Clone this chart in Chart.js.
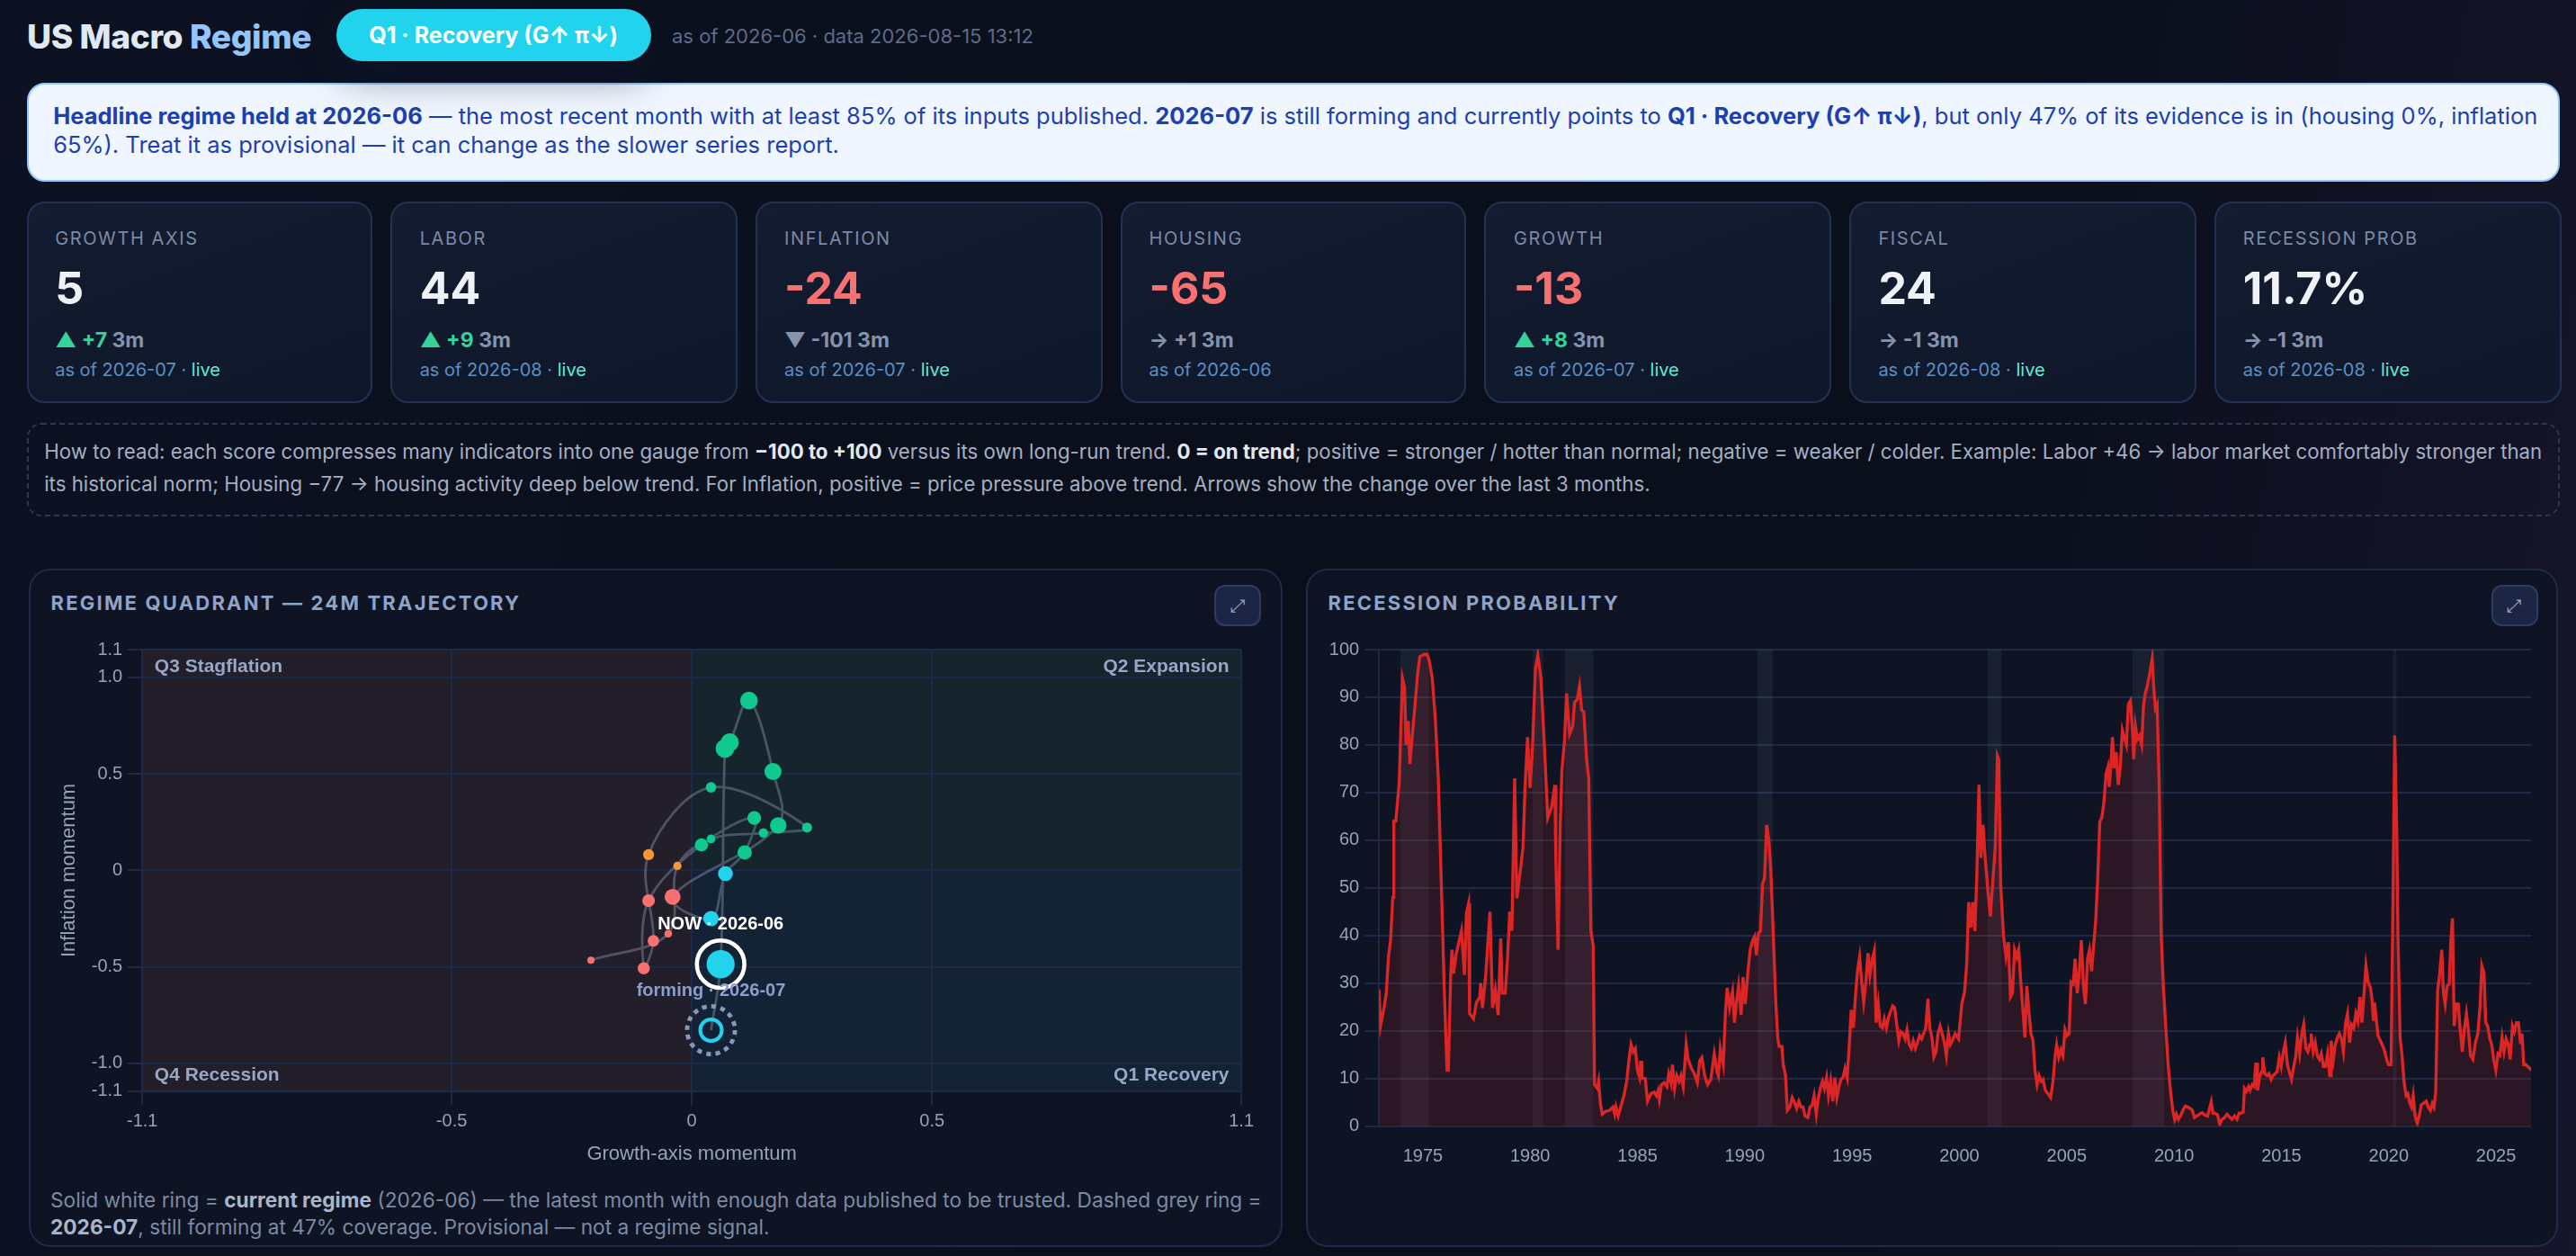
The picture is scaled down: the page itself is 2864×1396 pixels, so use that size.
<!DOCTYPE html>
<html>
<head>
<meta charset="utf-8">
<title>US Macro Regime</title>
<script src="https://cdn.jsdelivr.net/npm/chart.js@4.4.1/dist/chart.umd.min.js"></script>
<style>
html { margin: 0; padding: 0; overflow: hidden; background: #0a0f1c; }
body { margin: 0; padding: 0; width: 2864px; height: 1396px; background: #0a0f1c; }
#page {
    position: relative; width: 1432px; height: 698px; overflow: hidden;
    transform: scale(2); transform-origin: 0 0;
    background: linear-gradient(100deg, #0c1222 0%, #0a0f1b 45%, #0b0f1d 75%, #17152b 100%);
    font-family: Inter, "Noto Sans", sans-serif; color: #e2e8f0;
}
.hdr { position: absolute; left: 15px; top: 5px; height: 29px; display: flex; align-items: center; z-index: 2; }
.hdr h1 { margin: 0; font-size: 18.6px; font-weight: 800; color: #e2e8f0; letter-spacing: -0.2px; }
.hdr h1 span { color: #93c5fd; }
.pill { margin-left: 14px; height: 29px; padding: 0 18px; border-radius: 15px; background: #22d3ee; color: #fff;
    font-weight: 700; font-size: 12.5px; display: flex; align-items: center; box-shadow: 0 8px 20px rgba(15,23,42,0.5); }
.meta { margin-left: 12px; font-size: 11px; color: #5f6b86; }
.banner { position: absolute; left: 14.6px; top: 45.7px; width: 1408.4px; height: 55.7px; box-sizing: border-box;
    border: 1.5px solid #93c5fd; border-radius: 10px; background: #eff6ff; color: #1e40af;
    font-size: 12.75px; line-height: 16.5px; padding: 10px 14px; white-space: nowrap; }
.banner b { font-weight: 700; }
.cards { position: absolute; left: 14.6px; top: 112.3px; width: 1409px; height: 111.5px; display: flex; gap: 10px; }
.card { flex: 1; box-sizing: border-box; border: 1px solid #243252; border-radius: 10px;
    background: linear-gradient(160deg, #131c30, #0f172a); position: relative; }
.card .lbl { position: absolute; left: 15px; top: 13px; font-size: 10px; line-height: 12px; letter-spacing: 0.8px; color: #7d8aa5; }
.card .val { position: absolute; left: 15px; top: 32px; font-size: 25px; line-height: 30px; font-weight: 700; color: #eef2f7; }
.card .val.neg { color: #f87171; }
.card .dlt { position: absolute; left: 15px; top: 69px; font-size: 11.5px; line-height: 14px; font-weight: 700; color: #8593ad; }
.card .dlt .up { color: #34d399; }
.card .asof { position: absolute; left: 15px; top: 85.5px; font-size: 10px; line-height: 12px; color: #5c8fc4; }
.card .asof .live { color: #5eead4; }
.howto { position: absolute; left: 14.6px; top: 234.7px; width: 1408.4px; height: 52.1px; box-sizing: border-box;
    border: 1px dashed #2b3852; border-radius: 8px; padding: 7.5px 9px; font-size: 11.13px; line-height: 17.5px;
    color: #a4afc2; white-space: nowrap; }
.howto b { color: #e2e8f0; }
.panel { position: absolute; top: 315.5px; height: 377.5px; box-sizing: border-box; border: 1px solid #1f2b47;
    border-radius: 12px; background: #0e1424; }
.ptitle { position: absolute; left: 11.8px; top: 12.8px; font-size: 11px; line-height: 13px; font-weight: 700;
    letter-spacing: 1.1px; color: #8fa3c7; }
.pbtn { position: absolute; right: 10.5px; top: 8.5px; width: 26px; height: 23px; border-radius: 6px; background: #1c2543;
    border: 1px solid #2e3c64; box-sizing: border-box; color: #9aa6c2; font-size: 10px; display: flex;
    align-items: center; justify-content: center; }
.cbox { position: absolute; left: 11.5px; top: 35.5px; width: 672px; }
.note { position: absolute; left: 11.5px; top: 343.3px; width: 672px; font-size: 11.35px; line-height: 15.5px;
    color: #7d8aa3; white-space: nowrap; }
.note b { color: #a9b5cb; }
</style>
</head>
<body>
<div id="page">
    <div class="hdr">
        <h1>US Macro <span>Regime</span></h1>
        <div class="pill">Q1 · Recovery (G↑ π↓)</div>
        <div class="meta">as of 2026-06 · data 2026-08-15 13:12</div>
    </div>

    <div class="banner">
        <b>Headline regime held at 2026-06</b> — the most recent month with at least 85% of its inputs published. <b>2026-07</b> is still forming and currently points to <b>Q1 · Recovery (G↑ π↓)</b>, but only 47% of its evidence is in (housing 0%, inflation<br>65%). Treat it as provisional — it can change as the slower series report.
    </div>

    <div class="cards" id="cards"></div>

    <div class="howto">
        How to read: each score compresses many indicators into one gauge from <b>−100 to +100</b> versus its own long-run trend. <b>0 = on trend</b>; positive = stronger / hotter than normal; negative = weaker / colder. Example: Labor +46 → labor market comfortably stronger than<br>its historical norm; Housing −77 → housing activity deep below trend. For Inflation, positive = price pressure above trend. Arrows show the change over the last 3 months.
    </div>

    <div class="panel" style="left:15.5px;width:697px;">
        <div class="ptitle">REGIME QUADRANT — 24M TRAJECTORY</div>
        <div class="pbtn">⤢</div>
        <div class="cbox" style="height:300px;"><canvas id="quadChart"></canvas></div>
        <div class="note">Solid white ring = <b>current regime</b> (2026-06) — the latest month with enough data published to be trusted. Dashed grey ring =<br><b>2026-07</b>, still forming at 47% coverage. Provisional — not a regime signal.</div>
    </div>

    <div class="panel" style="left:725.5px;width:696.5px;">
        <div class="ptitle">RECESSION PROBABILITY</div>
        <div class="pbtn">⤢</div>
        <div class="cbox" style="height:303px;"><canvas id="recChart"></canvas></div>
    </div>
</div>

<script>
// cartões
const kpiLabels = ['GROWTH AXIS', 'LABOR', 'INFLATION', 'HOUSING', 'GROWTH', 'FISCAL', 'RECESSION PROB'];
const kpiValues = [5, 44, -24, -65, -13, 24, 11.7];
const kpiUnits = ['', '', '', '', '', '', '%'];
const kpiDelta3m = [7, 9, -101, 1, 8, -1, -1];
const kpiArrows = ['▲', '▲', '▼', '→', '▲', '→', '→'];
const kpiAsOf = ['2026-07', '2026-08', '2026-07', '2026-06', '2026-07', '2026-08', '2026-08'];
const kpiLive = [true, true, true, false, true, true, true];

// quadrante: 24 meses, o penúltimo é o regime atual, o último ainda em formação
const trajMonths = ['2024-08','2024-09','2024-10','2024-11','2024-12','2025-01','2025-02','2025-03','2025-04','2025-05','2025-06','2025-07',
    '2025-08','2025-09','2025-10','2025-11','2025-12','2026-01','2026-02','2026-03','2026-04','2026-05','2026-06','2026-07'];
const trajGrowth = [-0.210, -0.049, -0.030, 0.040, 0.149, 0.240, 0.040, -0.090, -0.080, -0.100, -0.090, 0.020,
    0.130, 0.110, 0.070, 0.040, -0.040, 0.180, 0.169, 0.119, 0.079, 0.069, 0.060, 0.040];
const trajInflation = [-0.466, -0.328, 0.023, 0.163, 0.194, 0.222, 0.430, 0.082, -0.365, -0.507, -0.157, 0.132,
    0.272, 0.093, -0.017, -0.250, -0.137, 0.233, 0.512, 0.880, 0.663, 0.632, -0.486, -0.828];
const quadXTicks = [-0.5, 0, 0.5];
const quadYTicks = [-1.0, -0.5, 0, 0.5, 1.0];
const quadNames = ['Q1 Recovery', 'Q2 Expansion', 'Q3 Stagflation', 'Q4 Recession'];

// probabilidade de recessão (ano decimal, %)
const recDates = [1972.96,1973.03,1973.2,1973.3,1973.4,1973.5,1973.6,1973.65,1973.74,1973.9,1974.05,1974.15,1974.22,1974.32,1974.4,1974.51,1974.63,1974.76,1974.86,1975.05,
    1975.2,1975.3,1975.44,1975.59,1975.72,1975.88,1976.0,1976.13,1976.19,1976.3,1976.36,1976.43,1976.55,1976.68,1976.8,1976.94,1977.03,1977.13,1977.18,1977.36,
    1977.5,1977.65,1977.7,1977.78,1977.93,1978.13,1978.25,1978.38,1978.51,1978.63,1978.7,1978.84,1978.95,1979.05,1979.15,1979.28,1979.38,1979.51,1979.67,1979.76,
    1979.88,1980.0,1980.1,1980.25,1980.36,1980.5,1980.63,1980.82,1981.0,1981.15,1981.2,1981.3,1981.4,1981.48,1981.6,1981.7,1981.84,1981.98,1982.07,1982.2,
    1982.3,1982.4,1982.5,1982.63,1982.73,1982.83,1982.94,1983.0,1983.13,1983.19,1983.27,1983.36,1983.52,1983.7,1983.86,1983.94,1984.0,1984.1,1984.2,1984.37,
    1984.5,1984.6,1984.7,1984.8,1984.9,1985.0,1985.1,1985.15,1985.2,1985.36,1985.47,1985.63,1985.78,1985.88,1985.96,1986.02,1986.12,1986.25,1986.37,1986.46,
    1986.56,1986.63,1986.73,1986.83,1986.94,1987.03,1987.13,1987.27,1987.36,1987.52,1987.65,1987.79,1987.9,1988.0,1988.13,1988.27,1988.42,1988.58,1988.71,1988.77,
    1988.86,1989.0,1989.1,1989.18,1989.29,1989.43,1989.52,1989.62,1989.71,1989.83,1989.92,1990.02,1990.15,1990.25,1990.37,1990.46,1990.54,1990.64,1990.73,1990.83,
    1990.92,1991.02,1991.12,1991.21,1991.33,1991.44,1991.54,1991.6,1991.73,1991.79,1991.9,1991.98,1992.1,1992.21,1992.33,1992.42,1992.52,1992.62,1992.71,1992.81,
    1992.94,1993.04,1993.14,1993.23,1993.33,1993.43,1993.52,1993.62,1993.71,1993.81,1993.9,1994.0,1994.1,1994.2,1994.29,1994.39,1994.48,1994.58,1994.67,1994.77,
    1994.87,1994.96,1995.06,1995.16,1995.25,1995.35,1995.45,1995.54,1995.64,1995.74,1995.83,1995.93,1996.03,1996.12,1996.22,1996.31,1996.41,1996.5,1996.6,1996.7,
    1996.79,1996.89,1996.98,1997.08,1997.18,1997.27,1997.37,1997.47,1997.56,1997.66,1997.76,1997.85,1997.95,1998.04,1998.14,1998.24,1998.33,1998.43,1998.53,1998.62,
    1998.72,1998.81,1998.91,1999.0,1999.1,1999.2,1999.3,1999.39,1999.49,1999.58,1999.67,1999.8,1999.96,2000.11,2000.24,2000.34,2000.43,2000.53,2000.62,2000.72,
    2000.81,2000.91,2001.0,2001.1,2001.2,2001.33,2001.44,2001.56,2001.67,2001.77,2001.83,2001.92,2002.05,2002.17,2002.28,2002.38,2002.47,2002.57,2002.67,2002.76,
    2002.86,2002.95,2003.05,2003.14,2003.24,2003.33,2003.43,2003.52,2003.62,2003.71,2003.81,2003.9,2004.0,2004.12,2004.25,2004.36,2004.46,2004.53,2004.63,2004.73,
    2004.82,2004.92,2005.01,2005.11,2005.2,2005.3,2005.39,2005.49,2005.58,2005.68,2005.78,2005.87,2005.97,2006.06,2006.16,2006.25,2006.35,2006.44,2006.54,2006.63,
    2006.73,2006.83,2006.92,2006.98,2007.05,2007.13,2007.21,2007.3,2007.4,2007.49,2007.59,2007.68,2007.78,2007.87,2007.97,2008.07,2008.12,2008.2,2008.29,2008.39,
    2008.49,2008.58,2008.66,2008.75,2008.85,2008.98,2009.06,2009.13,2009.21,2009.31,2009.4,2009.5,2009.61,2009.73,2009.84,2009.94,2010.03,2010.11,2010.2,2010.3,
    2010.41,2010.53,2010.64,2010.76,2010.85,2010.95,2011.06,2011.18,2011.31,2011.44,2011.56,2011.63,2011.73,2011.81,2011.9,2012.02,2012.13,2012.23,2012.36,2012.47,
    2012.59,2012.7,2012.82,2012.93,2013.03,2013.12,2013.22,2013.28,2013.37,2013.47,2013.54,2013.64,2013.73,2013.81,2013.89,2013.98,2014.08,2014.13,2014.23,2014.33,
    2014.42,2014.52,2014.61,2014.71,2014.8,2014.9,2014.99,2015.09,2015.18,2015.28,2015.37,2015.47,2015.56,2015.66,2015.75,2015.85,2015.95,2016.04,2016.14,2016.23,
    2016.33,2016.39,2016.48,2016.58,2016.67,2016.77,2016.86,2016.96,2017.05,2017.15,2017.25,2017.32,2017.42,2017.51,2017.61,2017.7,2017.8,2017.89,2017.99,2018.08,
    2018.18,2018.27,2018.37,2018.47,2018.56,2018.66,2018.75,2018.85,2018.94,2019.04,2019.15,2019.23,2019.29,2019.34,2019.42,2019.5,2019.61,2019.74,2019.84,2019.92,
    2019.99,2020.11,2020.18,2020.28,2020.37,2020.43,2020.53,2020.62,2020.72,2020.81,2020.89,2020.98,2021.06,2021.14,2021.23,2021.33,2021.42,2021.52,2021.63,2021.75,
    2021.84,2021.94,2022.03,2022.11,2022.19,2022.28,2022.38,2022.47,2022.55,2022.63,2022.72,2022.82,2022.89,2022.97,2023.05,2023.14,2023.24,2023.33,2023.43,2023.52,
    2023.62,2023.72,2023.81,2023.92,2024.04,2024.15,2024.25,2024.34,2024.44,2024.52,2024.61,2024.71,2024.8,2024.9,2024.99,2025.09,2025.18,2025.28,2025.37,2025.47,
    2025.57,2025.66,2025.76,2025.85,2025.95,2026.04,2026.14,2026.21,2026.29,2026.39,2026.48,2026.58,2026.63];
const recProb = [28.6,21,25,28,35.5,39,48,64,64,72,94,92,80,85,76,82,88,95,98.5,99,
    99,97.7,94,85,73,48,28.6,11.7,11.7,32,37,32,36,38.6,41,31.7,44.7,46.7,23.6,22.5,
    26,27,30,24.8,31.7,45,24.8,28.6,23.3,39.4,27.9,27.9,35.5,45,41,73,47.8,52.4,58.6,70.8,
    81.6,71,78.5,96,98.8,94,83,64.7,67,71.6,55.5,37,63,74.7,80.8,90.8,82.3,83.9,88.9,89.6,
    92.3,87.3,87,77,73,41,37.8,8.7,7.9,9.4,4.8,2.5,3.1,3.3,4,2.5,4,2.1,3.7,6.4,
    9.4,13.7,17.1,15.6,16.3,11.7,10.2,13.7,10,10,5.2,6.8,7.1,6.4,7.5,5.6,8.7,9.1,8.3,11,
    9.1,12.9,7.9,10.6,9.4,10.6,8.3,17.1,14,12.1,11,9.1,13.7,14.4,10.6,8.7,9.8,15.2,11.4,10.6,
    16.3,12.9,24,29,24.8,28.2,21.7,26.3,29.4,23.3,31.3,25.6,32.5,37,39,39.8,35.9,40.5,40.9,50.9,
    52,63.2,60,54,40.1,26.3,18.3,16.7,16.7,12.9,10.6,3.3,4,6,4.8,3.7,5.2,4,4,2.1,
    1.8,4,4.4,6.4,2.5,6,7.9,9.4,7.9,10.2,6.4,9.4,5.2,10.2,6,8.3,9.8,10.2,12.1,10.2,
    17.1,24.4,20.6,27.5,32.5,35.5,30.2,26,30.2,36.3,31.7,34.8,36.7,21.7,25.6,21,20.6,22.5,20.6,22.9,
    24,25.2,24.8,21.3,17.9,19.8,19.4,18.3,20.2,17.1,16.3,17.9,16.3,17.5,19,18.3,19.4,20.6,26.7,20.6,
    18.6,14.5,15.6,19.4,21,19.4,17.5,14.8,19.4,17.1,17.9,19.4,18.3,25.6,28.2,34,47,41.7,47,40.9,
    52.4,71.6,56.3,63.2,56.3,49.3,44,51.7,58.6,77.7,77,50.9,40.1,35.5,38.6,27.1,27.9,37,35.5,37,
    30.2,24.8,18.6,29.4,24,19.4,17.9,11.7,8.7,10.6,9.4,9.8,7.5,6.8,6,9.4,14.8,17.1,14.4,16,
    14.8,20.2,19,19.4,30.2,29.8,35.1,27.9,32.1,39,29.4,25.6,35.1,37,32.5,37.8,43.2,51.7,63.9,64.7,
    67.8,73.9,75.4,71.2,75.1,81.6,75.1,78.5,71.6,75.1,83.1,81.6,80,88.5,89.3,82.3,77,83.9,81.2,82,
    80,88.5,90.8,92.3,94.6,98.1,91.6,87.7,88.5,70.8,40.1,29.4,21,12.5,7.1,3.3,1.4,2.5,1.4,2.1,
    3.3,4.2,4,3.7,3.3,1.8,2.1,2.5,2.8,2.3,2.1,3.3,5.1,2.7,2.7,2.4,0.4,1.4,1.8,2.5,
    1.9,1.4,2.1,1.4,2.7,2.7,2.9,7.9,7.3,8.3,7.5,8.7,8.3,13.3,7.5,10.2,11.4,14.4,11,10.6,
    11,9.8,10.6,11,11.4,14.4,12.5,15.6,17.5,12.9,11.4,9.8,12.1,14.4,18.6,15.2,19.4,21.3,16.3,15.6,
    17.1,19.4,15.6,17.5,14.8,14,15.2,12.5,12.5,15.2,10.6,17.9,14,17.1,18.6,19.4,18.3,15.6,21.7,23.6,
    17.5,21.3,20.6,23.6,22.1,27.1,21.7,27.9,33.6,30.2,29,26.3,22.1,25.9,25.9,19,17.9,16.7,15.2,13.7,
    12.9,12.9,40.1,82,63.2,40.1,18.6,14.8,9.1,6.4,6.8,4.8,4,6.4,2.1,0.6,2.1,4.5,4.8,5.2,
    4,3.3,4.8,4,7.1,28.6,32.1,37,27.9,25.6,29.4,29.8,38.6,43.6,21,25.6,25.6,20.2,15.6,20.2,
    23.6,19.8,14.8,14,17.5,19.4,24.8,33.6,32.1,21.7,21,18.3,17.1,13.7,11.7,15.2,14.8,18.6,15.6,18.3,
    17.1,14,21,19.8,21.7,21.7,17.5,19.4,12.9,12.9,12.5,12.1,11.7];
const recBandStart = [1973.96, 1980.13, 1981.63, 1990.6, 2001.31, 2008.07, 2020.2];
const recBandEnd = [1975.28, 1980.6, 1982.94, 1991.3, 2001.96, 2009.53, 2020.36];
const recTickYears = [1975, 1980, 1985, 1990, 1995, 2000, 2005, 2010, 2015, 2020, 2025];
const recStart = 1972.96, recEnd = 2026.63;

const quadLim = 1.144;
const nowIdx = trajMonths.length - 2;
const formIdx = trajMonths.length - 1;

const gridCor = '#1e2a45';
const tickCor = '#94a3b8';
const fonteChart = "'Helvetica Neue', Helvetica, Arial, 'Liberation Sans', sans-serif";

// monta os cartões
const cardsEl = document.getElementById('cards');
kpiLabels.forEach((lbl, i) => {
    const v = kpiValues[i];
    const vTxt = kpiUnits[i] === '%' ? v.toFixed(1) + '%' : String(v);
    const d = kpiDelta3m[i];
    const dTxt = (d > 0 ? '+' : '') + d;
    const up = kpiArrows[i] === '▲';
    const dHtml = up
        ? `<span class="up">${kpiArrows[i]} ${dTxt}</span> 3m`
        : `${kpiArrows[i]} ${dTxt} 3m`;
    const card = document.createElement('div');
    card.className = 'card';
    card.innerHTML = `<div class="lbl">${lbl}</div>
        <div class="val${v < 0 ? ' neg' : ''}">${vTxt}</div>
        <div class="dlt">${dHtml}</div>
        <div class="asof">as of ${kpiAsOf[i]}${kpiLive[i] ? ' · <span class="live">live</span>' : ''}</div>`;
    cardsEl.appendChild(card);
});

Chart.defaults.font.family = fonteChart;
Chart.defaults.color = tickCor;

function corQuadrante(x, y) {
    if (x >= 0 && y >= 0) return '#10c98f';
    if (x >= 0) return '#22d3ee';
    if (y >= 0) return '#f7973a';
    return '#f87171';
}

const fmtQuad = v => (Math.abs(v) < 1e-9 ? '0' : v.toFixed(1));

// fundo e rótulos dos quadrantes
const quadPlugin = {
    id: 'quadPlugin',
    beforeDraw(chart) {
        const { ctx, chartArea: a, scales } = chart;
        const x0 = scales.x.getPixelForValue(0);
        const y0 = scales.y.getPixelForValue(0);
        ctx.save();
        ctx.fillStyle = '#221e2a';
        ctx.fillRect(a.left, a.top, x0 - a.left, a.bottom - a.top);
        ctx.fillStyle = '#15242d';
        ctx.fillRect(x0, a.top, a.right - x0, y0 - a.top);
        ctx.fillStyle = '#142236';
        ctx.fillRect(x0, y0, a.right - x0, a.bottom - y0);
        ctx.restore();
    },
    beforeDatasetsDraw(chart) {
        const { ctx, chartArea: a } = chart;
        ctx.save();
        ctx.font = 'bold 10.5px ' + fonteChart;
        ctx.fillStyle = '#98a7c6';
        ctx.textBaseline = 'alphabetic';
        ctx.textAlign = 'left';
        ctx.fillText(quadNames[2], a.left + 6.8, a.top + 12.4);
        ctx.fillText(quadNames[3], a.left + 6.8, a.bottom - 6);
        ctx.textAlign = 'right';
        ctx.fillText(quadNames[1], a.right - 6.8, a.top + 12.4);
        ctx.fillText(quadNames[0], a.right - 6.8, a.bottom - 6);
        ctx.restore();
    },
    afterDatasetsDraw(chart) {
        const { ctx, scales } = chart;
        const fx = scales.x.getPixelForValue(trajGrowth[formIdx]);
        const fy = scales.y.getPixelForValue(trajInflation[formIdx]);
        const nx = scales.x.getPixelForValue(trajGrowth[nowIdx]);
        const ny = scales.y.getPixelForValue(trajInflation[nowIdx]);
        ctx.save();
        ctx.setLineDash([2.6, 2.6]);
        ctx.lineWidth = 2.4;
        ctx.strokeStyle = '#8a98b8';
        ctx.beginPath();
        ctx.arc(fx, fy, 13.3, 0, Math.PI * 2);
        ctx.stroke();
        ctx.setLineDash([]);
        ctx.font = 'bold 10px ' + fonteChart;
        ctx.textAlign = 'center';
        ctx.textBaseline = 'middle';
        ctx.fillStyle = '#ffffff';
        ctx.fillText('NOW · ' + trajMonths[nowIdx], nx, ny - 22);
        ctx.fillStyle = '#8d9fc9';
        ctx.fillText('forming · ' + trajMonths[formIdx], fx, fy - 22);
        ctx.restore();
    }
};

const ctxQuad = document.getElementById('quadChart');
if (ctxQuad) {
    try {
        const pontos = trajGrowth.map((g, i) => ({ x: g, y: trajInflation[i] }));
        new Chart(ctxQuad, {
            type: 'scatter',
            data: {
                datasets: [{
                    // anel branco do regime atual
                    data: [pontos[nowIdx]],
                    pointRadius: 13.2,
                    pointBackgroundColor: 'rgba(0,0,0,0)',
                    pointBorderColor: '#ffffff',
                    pointBorderWidth: 2.3,
                    showLine: false
                }, {
                    data: pontos,
                    showLine: true,
                    borderColor: 'rgba(148,163,184,0.4)',
                    borderWidth: 1.4,
                    tension: 0.35,
                    pointRadius: c => c.dataIndex === nowIdx ? 7.8 : c.dataIndex === formIdx ? 6 : 2 + 3.2 * c.dataIndex / (nowIdx - 1),
                    pointBackgroundColor: c => c.dataIndex === formIdx ? 'rgba(0,0,0,0)' : corQuadrante(trajGrowth[c.dataIndex], trajInflation[c.dataIndex]),
                    pointBorderColor: c => corQuadrante(trajGrowth[c.dataIndex], trajInflation[c.dataIndex]),
                    pointBorderWidth: c => c.dataIndex === formIdx ? 2 : 0
                }]
            },
            options: {
                responsive: true,
                maintainAspectRatio: false,
                animation: false,
                devicePixelRatio: 2,
                layout: { autoPadding: false, padding: { top: 9, right: 9.5, left: 0, bottom: 0 } },
                plugins: { legend: { display: false }, tooltip: { enabled: false } },
                scales: {
                    x: {
                        type: 'linear', min: -quadLim, max: quadLim,
                        afterBuildTicks: s => { s.ticks = [-quadLim, ...quadXTicks, quadLim].map(v => ({ value: v })); },
                        afterFit: s => { s.height = 45.6; },
                        ticks: { callback: fmtQuad, color: tickCor, font: { size: 10 }, padding: 3, maxRotation: 0, autoSkip: false },
                        grid: { color: gridCor, tickLength: 8 },
                        border: { color: gridCor },
                        title: { display: true, text: 'Growth-axis momentum', color: tickCor, font: { size: 11 }, padding: { top: 4, bottom: 4 } }
                    },
                    y: {
                        type: 'linear', min: -quadLim, max: quadLim,
                        afterBuildTicks: s => { s.ticks = [-quadLim, ...quadYTicks, quadLim].map(v => ({ value: v })); },
                        afterFit: s => { s.width = 51.1; },
                        ticks: { callback: fmtQuad, color: tickCor, font: { size: 10 }, padding: 3, autoSkip: false },
                        grid: { color: gridCor, tickLength: 8 },
                        border: { color: gridCor },
                        title: { display: true, text: 'Inflation momentum', color: tickCor, font: { size: 11 }, padding: { top: 4, bottom: 4 } }
                    }
                }
            },
            plugins: [quadPlugin]
        });
    } catch (e) {
        console.error('Erro ao criar gráfico de quadrante:', e);
    }
}

// faixas de recessão
const faixasPlugin = {
    id: 'faixas',
    beforeDatasetsDraw(chart) {
        const { ctx, chartArea: a, scales } = chart;
        ctx.save();
        ctx.fillStyle = 'rgba(148,163,184,0.09)';
        recBandStart.forEach((s, i) => {
            const x1 = scales.x.getPixelForValue(s);
            const x2 = scales.x.getPixelForValue(recBandEnd[i]);
            ctx.fillRect(x1, a.top, x2 - x1, a.bottom - a.top);
        });
        ctx.restore();
    }
};

const ctxRec = document.getElementById('recChart');
if (ctxRec) {
    try {
        new Chart(ctxRec, {
            type: 'line',
            data: {
                datasets: [{
                    label: 'Recession probability',
                    data: recDates.map((d, i) => ({ x: d, y: recProb[i] })),
                    borderColor: '#dc2626',
                    borderWidth: 1.7,
                    backgroundColor: 'rgba(220,38,38,0.14)',
                    fill: 'origin',
                    pointRadius: 0,
                    tension: 0
                }]
            },
            options: {
                responsive: true,
                maintainAspectRatio: false,
                animation: false,
                devicePixelRatio: 2,
                layout: { padding: { top: 7.9, right: 3, left: 0, bottom: 0 } },
                plugins: { legend: { display: false }, tooltip: { enabled: false } },
                scales: {
                    x: {
                        type: 'linear', min: recStart, max: recEnd,
                        afterBuildTicks: s => { s.ticks = recTickYears.map(v => ({ value: v })); },
                        afterFit: s => { s.height = 29.2; },
                        ticks: { callback: v => String(v), color: tickCor, font: { size: 10 }, padding: 11, maxRotation: 0, autoSkip: false },
                        grid: { display: false, drawTicks: false },
                        border: { display: false }
                    },
                    y: {
                        min: 0, max: 100,
                        afterFit: s => { s.width = 28.6; },
                        ticks: { stepSize: 10, color: tickCor, font: { size: 10 }, padding: 3 },
                        grid: { color: gridCor, tickLength: 8 },
                        border: { color: gridCor }
                    }
                }
            },
            plugins: [faixasPlugin]
        });
    } catch (e) {
        console.error('Erro ao criar gráfico de recessão:', e);
    }
}
</script>
</body>
</html>
